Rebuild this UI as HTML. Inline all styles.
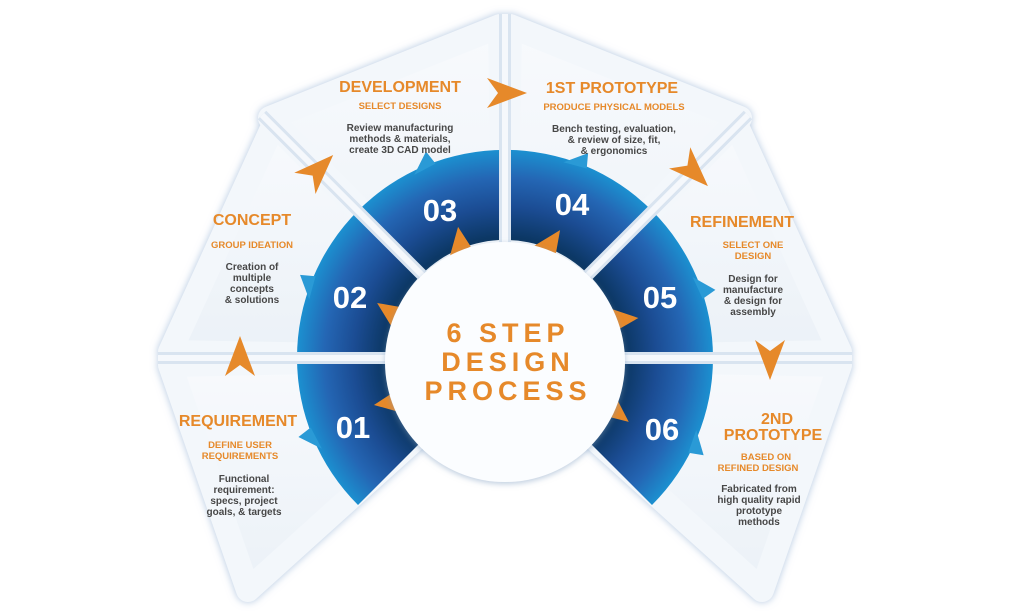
<!DOCTYPE html>
<html><head><meta charset="utf-8"><style>
html,body{margin:0;padding:0;background:#fff;}
svg{display:block;}
.t{font-family:"Liberation Sans",sans-serif;font-weight:bold;fill:#e6892a;text-anchor:middle;}
.h{font-size:16px;}
.s{font-size:9.5px;}
.b{font-family:"Liberation Sans",sans-serif;font-weight:bold;font-size:10px;fill:#474747;text-anchor:middle;}
.n{font-family:"Liberation Sans",sans-serif;font-weight:bold;font-size:31px;fill:#fff;text-anchor:middle;}
</style></head><body>
<svg width="1024" height="614" viewBox="0 0 1024 614" xmlns="http://www.w3.org/2000/svg">
<defs>
<linearGradient id="pg" x1="0" y1="0" x2="0" y2="1"><stop offset="0" stop-color="#f8fafd"/><stop offset="1" stop-color="#ebf1f7"/></linearGradient>
<radialGradient id="rg" cx="505" cy="358" r="210" gradientUnits="userSpaceOnUse">
<stop offset="0.56" stop-color="#0a355f"/><stop offset="0.72" stop-color="#1b4c93"/><stop offset="0.86" stop-color="#2466b4"/><stop offset="1" stop-color="#1b93d2"/></radialGradient>
<filter id="gl" x="-20%" y="-20%" width="140%" height="140%"><feDropShadow dx="0" dy="0" stdDeviation="4" flood-color="#9fb8d8" flood-opacity="0.8"/></filter>
<filter id="cs" x="-20%" y="-20%" width="140%" height="140%"><feDropShadow dx="0" dy="2" stdDeviation="3" flood-color="#7f9cbf" flood-opacity="0.5"/></filter>
</defs>
<!-- panels -->
<g fill="url(#pg)" stroke="#f3f7fb" stroke-width="24" stroke-linejoin="round" filter="url(#gl)">
<polygon points="505,358 248,590 170,365"/>
<polygon points="505,358 170,352 274,124"/>
<polygon points="505,358 270,118 500,26"/>
<polygon points="505,358 510,26 740,118"/>
<polygon points="505,358 736,124 840,352"/>
<polygon points="505,358 840,365 762,590"/>
</g>
<!-- ring -->
<path d="M358,505 A208,208 0 1 1 652,505 L588.4,441.4 A118,118 0 1 0 421.6,441.4 Z" fill="url(#rg)"/>
<g fill="#2a9ad6">
<polygon points="709,346 711,370 726,366" transform="rotate(-203 505 358)"/>
<polygon points="709,346 711,370 726,366" transform="rotate(-160 505 358)"/>
<polygon points="709,346 711,370 726,366" transform="rotate(-113 505 358)"/>
<polygon points="709,346 711,370 726,366" transform="rotate(-70 505 358)"/>
<polygon points="709,346 711,370 726,366" transform="rotate(-20 505 358)"/>
<polygon points="709,346 711,370 726,366" transform="rotate(24 505 358)"/>
</g>
<g fill="#e6892a">
<polygon points="619,346 621,370 644,366" transform="rotate(-203 505 358)"/>
<polygon points="619,346 621,370 644,366" transform="rotate(-160 505 358)"/>
<polygon points="619,346 621,370 644,366" transform="rotate(-113 505 358)"/>
<polygon points="619,346 621,370 644,366" transform="rotate(-70 505 358)"/>
<polygon points="619,346 621,370 644,366" transform="rotate(-20 505 358)"/>
<polygon points="619,346 621,370 644,366" transform="rotate(24 505 358)"/>
</g>
<!-- separators -->
<g stroke="#d9e4f0" stroke-width="12">
<line x1="505" y1="358" x2="158" y2="358"/>
<line x1="505" y1="358" x2="262" y2="115"/>
<line x1="505" y1="358" x2="505" y2="14"/>
<line x1="505" y1="358" x2="748" y2="115"/>
<line x1="505" y1="358" x2="852" y2="358"/>
</g>
<g stroke="#f5f8fc" stroke-width="6">
<line x1="505" y1="358" x2="158" y2="358"/>
<line x1="505" y1="358" x2="262" y2="115"/>
<line x1="505" y1="358" x2="505" y2="14"/>
<line x1="505" y1="358" x2="748" y2="115"/>
<line x1="505" y1="358" x2="852" y2="358"/>
</g>
<!-- arrows -->
<g fill="#e6892a">
<polygon points="527,93 487,78 498,93 487,108" transform="rotate(-90 505 358)"/>
<polygon points="527,93 487,78 498,93 487,108" transform="rotate(-45 505 358)"/>
<polygon points="527,93 487,78 498,93 487,108"/>
<polygon points="527,93 487,78 498,93 487,108" transform="rotate(45 505 358)"/>
<polygon points="527,93 487,78 498,93 487,108" transform="rotate(90 505 358)"/>
</g>
<!-- center -->
<circle cx="505" cy="362" r="120" fill="#fbfdff" filter="url(#cs)"/>
<g class="t" style="font-size:27px;letter-spacing:5px">
<text x="508" y="342">6 STEP</text>
<text x="508" y="371">DESIGN</text>
<text x="508" y="400">PROCESS</text>
</g>
<text class="n" x="353" y="438">01</text>
<text class="n" x="350" y="308">02</text>
<text class="n" x="440" y="221">03</text>
<text class="n" x="572" y="215">04</text>
<text class="n" x="660" y="308">05</text>
<text class="n" x="662" y="440">06</text>

<text class="t h" x="400" y="92">DEVELOPMENT</text>
<text class="t s" x="400" y="109">SELECT DESIGNS</text>
<text class="b" x="400" y="131">Review manufacturing</text>
<text class="b" x="400" y="142">methods &amp; materials,</text>
<text class="b" x="400" y="153">create 3D CAD model</text>

<text class="t h" x="612" y="93">1ST PROTOTYPE</text>
<text class="t s" x="614" y="110">PRODUCE PHYSICAL MODELS</text>
<text class="b" x="614" y="132">Bench testing, evaluation,</text>
<text class="b" x="614" y="143">&amp; review of size, fit,</text>
<text class="b" x="614" y="154">&amp; ergonomics</text>

<text class="t h" x="252" y="225">CONCEPT</text>
<text class="t s" x="252" y="248">GROUP IDEATION</text>
<text class="b" x="252" y="270">Creation of</text>
<text class="b" x="252" y="281">multiple</text>
<text class="b" x="252" y="292">concepts</text>
<text class="b" x="252" y="303">&amp; solutions</text>

<text class="t h" x="742" y="227">REFINEMENT</text>
<text class="t s" x="753" y="248">SELECT ONE</text>
<text class="t s" x="753" y="259">DESIGN</text>
<text class="b" x="753" y="282">Design for</text>
<text class="b" x="753" y="293">manufacture</text>
<text class="b" x="753" y="304">&amp; design for</text>
<text class="b" x="753" y="315">assembly</text>

<text class="t h" x="777" y="424">2ND</text>
<text class="t h" x="773" y="440">PROTOTYPE</text>
<text class="t s" x="766" y="460">BASED ON</text>
<text class="t s" x="758" y="471">REFINED DESIGN</text>
<text class="b" x="759" y="492">Fabricated from</text>
<text class="b" x="759" y="503">high quality rapid</text>
<text class="b" x="759" y="514">prototype</text>
<text class="b" x="759" y="525">methods</text>

<text class="t h" x="238" y="426">REQUIREMENT</text>
<text class="t s" x="240" y="448">DEFINE USER</text>
<text class="t s" x="240" y="459">REQUIREMENTS</text>
<text class="b" x="244" y="482">Functional</text>
<text class="b" x="244" y="493">requirement:</text>
<text class="b" x="244" y="504">specs, project</text>
<text class="b" x="244" y="515">goals, &amp; targets</text>
</svg>
</body></html>
